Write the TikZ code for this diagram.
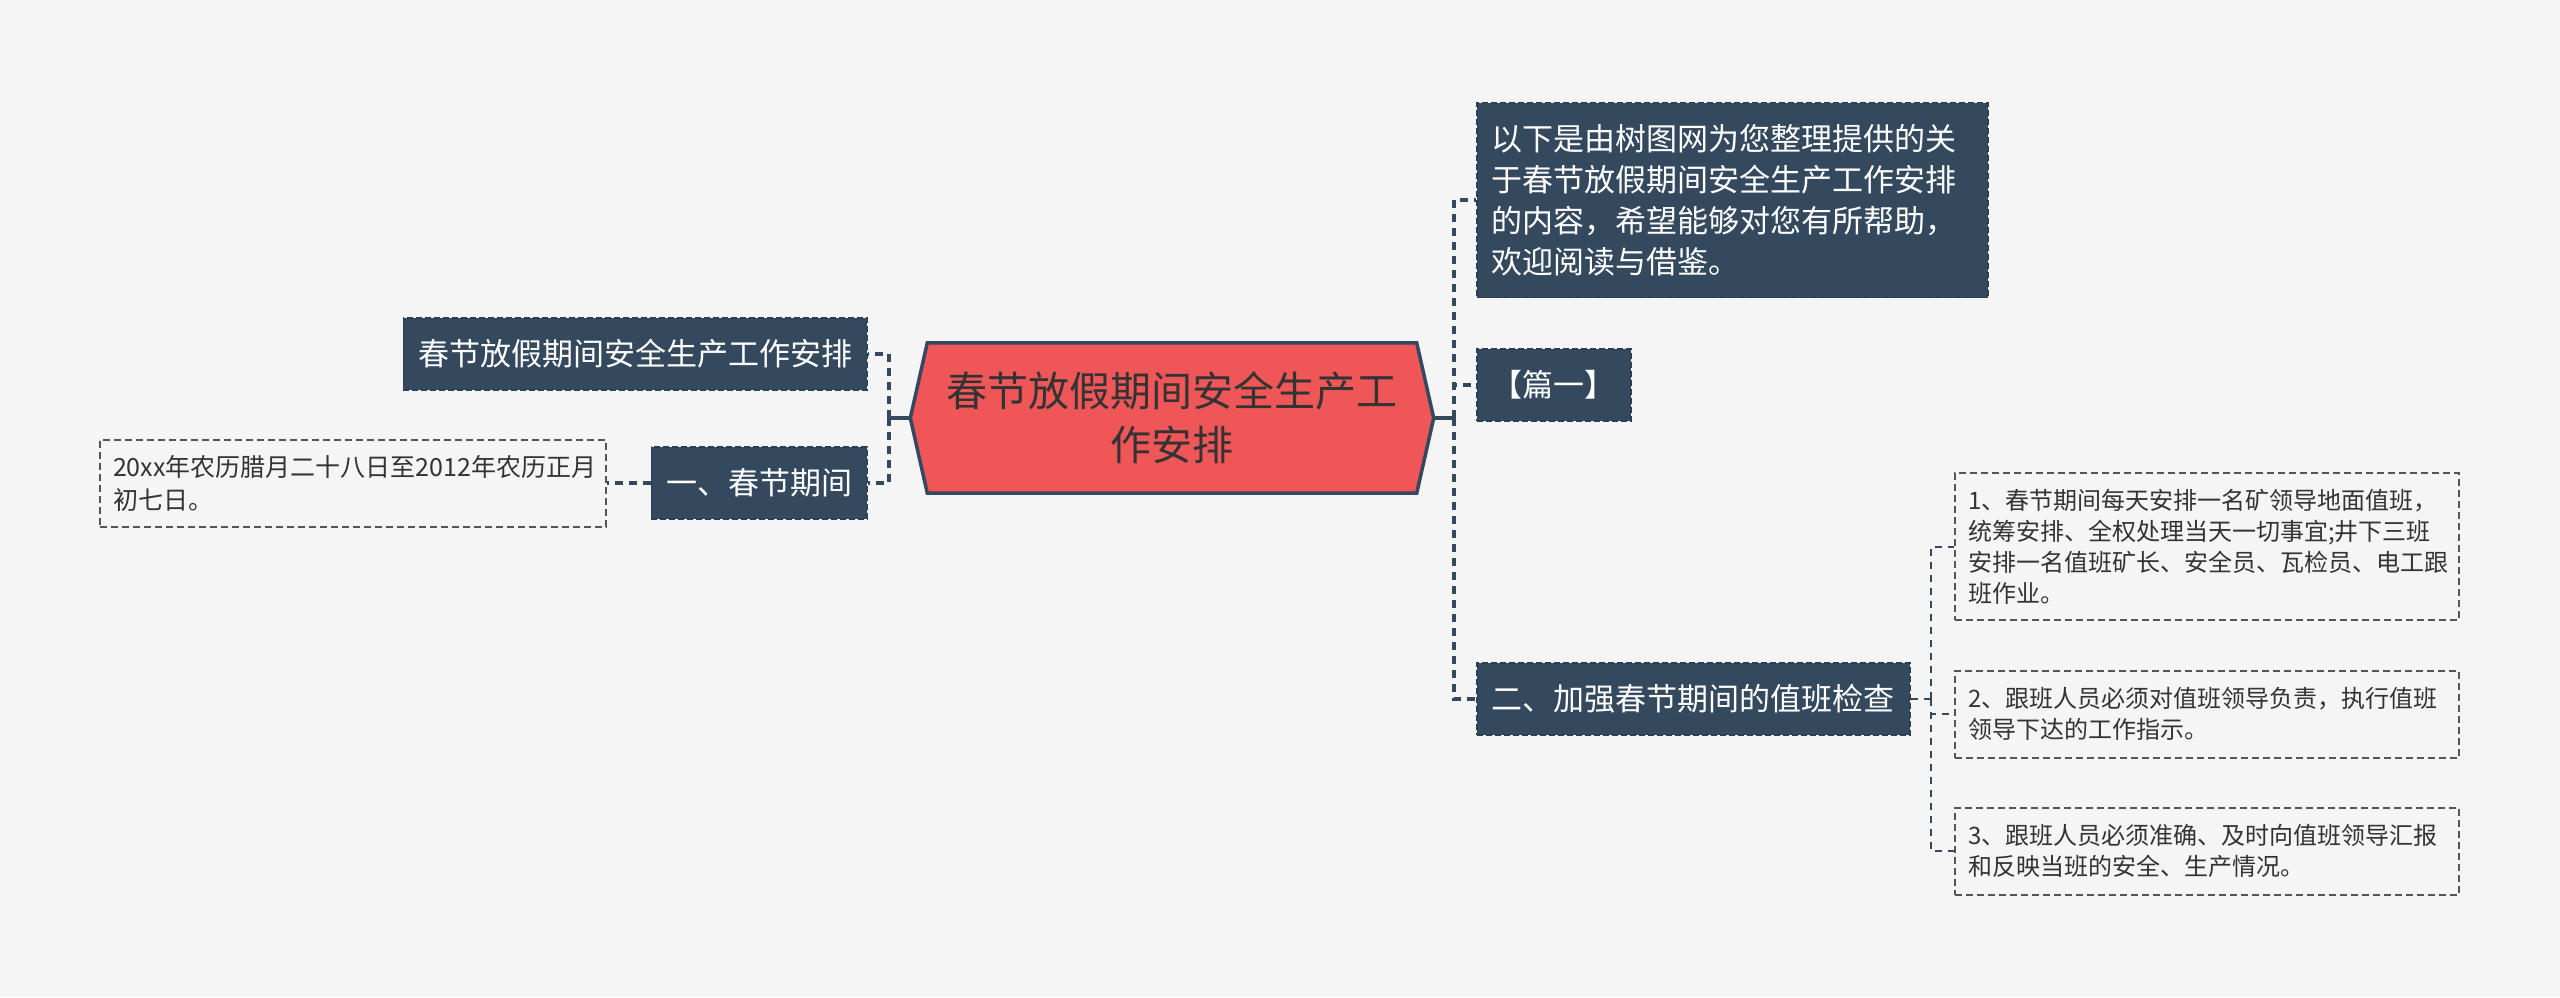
\documentclass[tikz,border=0pt]{standalone}
\usepackage{fontspec}
\setmainfont{Noto Sans CJK SC}
\pgfdeclarelayer{back}
\pgfdeclarelayer{bg}
\pgfsetlayers{back,bg,main}
\definecolor{bgc}{HTML}{F5F5F5}
\definecolor{navy}{HTML}{34495E}
\definecolor{navyline}{HTML}{2B3E52}
\definecolor{hexred}{HTML}{EF5658}
\definecolor{txt}{HTML}{333333}
\definecolor{subline}{HTML}{555555}
\tikzset{
  darkbox/.style={fill=navy, draw=navyline, dashed, dash pattern=on 6pt off 3pt, line width=1.5pt,
    text=white, font=\fontsize{31}{41}\selectfont, inner xsep=15pt, inner ysep=0pt, minimum height=72pt},
  lightbox/.style={draw=subline, dashed, dash pattern=on 7pt off 4pt, line width=2pt,
    text=txt, inner xsep=13pt, inner ysep=0pt, align=left},
  conn/.style={draw=navy, line width=3.2pt, dash pattern=on 8pt off 6pt},
  stub/.style={draw=navy, line width=3.2pt},
  subconn/.style={draw=navy, line width=2pt, dash pattern=on 7pt off 6pt},
}
\begin{document}
\begin{tikzpicture}[x=1pt,y=-1pt]
\begin{pgfonlayer}{back}
\useasboundingbox[fill=bgc] (0,0) rectangle (2560,997);
\end{pgfonlayer}

% central topic
\node[minimum width=523pt, minimum height=150pt, inner sep=0pt, align=center, text=txt,
  font=\fontsize{41}{54}\selectfont] (hex) at (1172,418) {春节放假期间安全生产工\\作安排};
\begin{pgfonlayer}{bg}
\draw[fill=hexred, draw=navy, line width=3.5pt, line join=miter]
  (hex.west) -- ([xshift=17pt]hex.north west) -- ([xshift=-17pt]hex.north east)
  -- (hex.east) -- ([xshift=-17pt]hex.south east) -- ([xshift=17pt]hex.south west) -- cycle;
\end{pgfonlayer}

% right branch
\node[darkbox, anchor=west, text width=481pt, align=left, minimum height=195pt] (boxA) at (1476,200)
  {以下是由树图网为您整理提供的关\\于春节放假期间安全生产工作安排\\的内容，希望能够对您有所帮助，\\欢迎阅读与借鉴。};
\node[darkbox, anchor=west] (boxB) at (1476,385) {【篇一】};
\node[darkbox, anchor=west] (boxC) at (1476,699) {二、加强春节期间的值班检查};

% left branch
\node[darkbox, anchor=east] (left1) at (868,354) {春节放假期间安全生产工作安排};
\node[darkbox, anchor=east] (left2) at (868,483) {一、春节期间};
\node[lightbox, anchor=east, text width=480pt, minimum height=87pt, font=\fontsize{25}{33}\selectfont]
  (far) at (607,483) {20xx年农历腊月二十八日至2012年农历正月\\初七日。};

% sub items
\node[lightbox, anchor=west, text width=478pt, minimum height=147pt, font=\fontsize{24}{31}\selectfont]
  (d1) at (1954,546.5) {1、春节期间每天安排一名矿领导地面值班，\\统筹安排、全权处理当天一切事宜;井下三班\\安排一名值班矿长、安全员、瓦检员、电工跟\\班作业。};
\node[lightbox, anchor=west, text width=478pt, minimum height=87pt, font=\fontsize{24}{31}\selectfont]
  (d2) at (1954,714) {2、跟班人员必须对值班领导负责，执行值班\\领导下达的工作指示。};
\node[lightbox, anchor=west, text width=478pt, minimum height=87pt, font=\fontsize{24}{31}\selectfont]
  (d3) at (1954,851) {3、跟班人员必须准确、及时向值班领导汇报\\和反映当班的安全、生产情况。};

% connectors
\coordinate (jR) at (1454,418);
\coordinate (jL) at (889,418);
\coordinate (jC) at (1931,699);

\draw[stub] (hex.east) -- (jR);
\draw[conn] (jR) |- (boxA.west);
\draw[conn] (jR) |- (boxB.west);
\draw[conn] (jR) |- (boxC.west);

\draw[stub] (hex.west) -- (jL);
\draw[conn] (jL) |- (left1.east);
\draw[conn] (jL) |- (left2.east);
\draw[conn] (left2.west) -- (far.east);

\draw[subconn] (boxC.east) -- (jC);
\draw[subconn] (jC) |- (d1.west);
\draw[subconn] (jC) |- (d2.west);
\draw[subconn] (jC) |- (d3.west);
\end{tikzpicture}
\end{document}
